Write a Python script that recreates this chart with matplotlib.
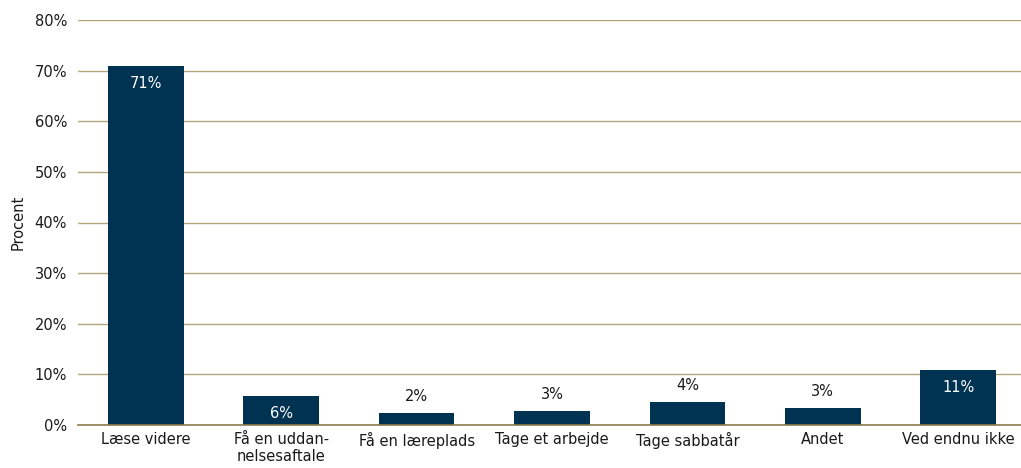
import matplotlib
matplotlib.use("Agg")
import matplotlib.pyplot as plt
from matplotlib.ticker import FuncFormatter

categories = ["Læse videre", "Få en uddan-\nnelsesaftale", "Få en læreplads", "Tage et arbejde",
              "Tage sabbatår", "Andet", "Ved endnu ikke"]
values = [70.9, 5.7, 2.4, 2.8, 4.5, 3.4, 10.9]
labels = ["71%", "6%", "2%", "3%", "4%", "3%", "11%"]
inside = [True, True, False, False, False, False, True]

bar_color = "#003251"
grid_color = "#b3a67f"
zero_color = "#8c7b4c"
fs = 10.5

fig = plt.figure(figsize=(10.21, 4.68), dpi=100)
ax = fig.add_axes([78/1021, 43/468, (1026-78)/1021, (425-20)/468])

x = list(range(len(categories)))
ax.bar(x, values, width=0.56, color=bar_color, zorder=3)

for xi, v, lab, ins in zip(x, values, labels, inside):
    if ins:
        ax.annotate(lab, (xi, v), xytext=(0, -12.5), textcoords="offset points",
                    ha="center", va="center", color="white", fontsize=fs, zorder=4)
    else:
        ax.annotate(lab, (xi, v), xytext=(0, 12), textcoords="offset points",
                    ha="center", va="center", color="#1a1a1a", fontsize=fs, zorder=4)

ax.set_ylim(0, 80)
ax.set_xlim(-0.5, len(categories) - 0.5)
ax.set_yticks(range(0, 81, 10))
ax.yaxis.set_major_formatter(FuncFormatter(lambda v, p: f"{int(v)}%"))
ax.set_xticks(x)
ax.set_xticklabels(categories, fontsize=fs, color="#1a1a1a", linespacing=1.15)
ax.tick_params(axis="y", labelsize=fs, colors="#1a1a1a", length=0, pad=8)
ax.tick_params(axis="x", length=0, pad=5)
ax.yaxis.grid(True, color=grid_color, linewidth=1, zorder=0)
ax.axhline(0, color=zero_color, linewidth=1.2, zorder=4, clip_on=False)
for s in ax.spines.values():
    s.set_visible(False)
ax.set_ylabel("Procent", fontsize=fs, color="#1a1a1a", labelpad=6)

fig.savefig("out.png", dpi=100)
